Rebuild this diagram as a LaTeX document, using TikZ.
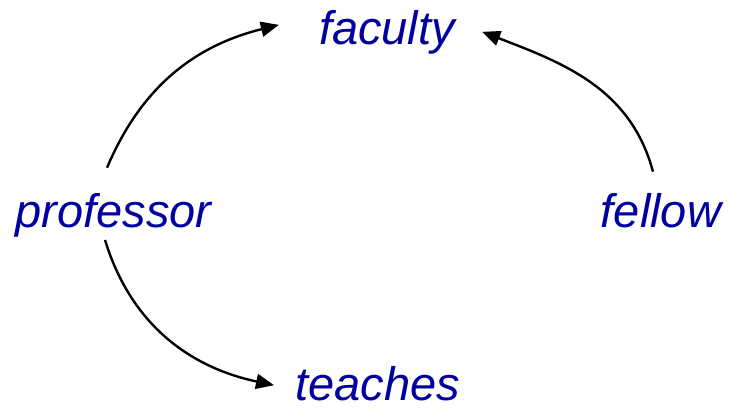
\documentclass[tikz,border=0pt]{standalone}
\usepackage{fontspec}
\usepackage{xcolor}
\usepackage{tikz}
\usetikzlibrary{arrows.meta, positioning, calc}
\newfontfamily\termfont{Liberation Sans}
\definecolor{termBlue}{HTML}{0000A0}

\begin{document}
\begin{tikzpicture}[
  x=1pt, y=1pt,
  term/.style={inner sep=0pt, anchor=base, text=termBlue,
               font=\termfont\itshape\fontsize{47pt}{51pt}\selectfont},
  arr/.style={-{Triangle[length=18pt, width=15pt]}, line width=2.4pt, black},
]
\useasboundingbox (0,0) rectangle (729,409);

\node[term] (faculty)   at (387,364)   {faculty};
\node[term] (professor) at (113.5,181) {professor};
\node[term] (fellow)    at (661,181)   {fellow};
\node[term] (teaches)   at (377.5,8)   {teaches};

\draw[arr] ([shift={(-6.5pt,26pt)}]professor.north) to[out=67, in=194] ([shift={(-40pt,8pt)}]faculty.west);
\draw[arr] ([shift={(-8pt,22pt)}]fellow.north) to[out=105, in=339] ([shift={(27pt,1pt)}]faculty.east);
\draw[arr] ([shift={(-8.5pt,-2pt)}]professor.south) to[out=-73, in=168] ([shift={(-21pt,-1pt)}]teaches.west);
\end{tikzpicture}
\end{document}
